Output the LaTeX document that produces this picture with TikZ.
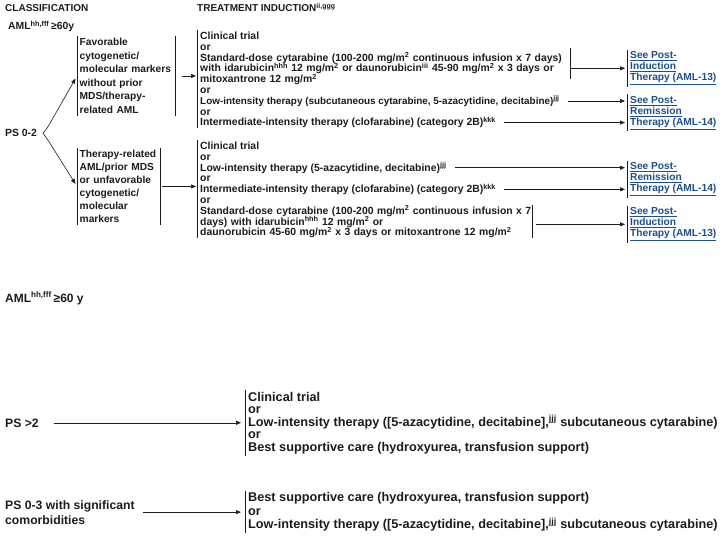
\documentclass[tikz,border=0pt]{standalone}
\usepackage{fontspec}
\setmainfont{Liberation Sans}
\usepackage{tikz}
\usetikzlibrary{positioning, arrows.meta}
\definecolor{inkgray}{HTML}{1C1C1C}
\definecolor{linkblue}{HTML}{1F4E8C}
\newcommand{\tightlines}{\lineskiplimit=-5pt\relax}

\begin{document}
\begin{tikzpicture}[
    x=1pt, y=-1pt,
    every node/.style={inner sep=0pt, text=inkgray},
    head/.style={anchor=base west, font=\bfseries\fontsize{10}{12}\selectfont},
    cls/.style={anchor=north west, align=left, inner xsep=2.5pt, inner ysep=2pt, font=\bfseries\fontsize{10.2}{13.6}\selectfont},
    opt/.style={anchor=base west, align=left, font={\bfseries\fontsize{10.4}{10.8}\selectfont\tightlines}},
    care/.style={anchor=base west, align=left, inner xsep=3pt, inner ysep=2pt, font={\bfseries\fontsize{12.7}{12.5}\selectfont\tightlines}},
    cond/.style={anchor=base west, align=left, font=\bfseries\fontsize{12.2}{15}\selectfont},
    link/.style={anchor=north west, align=left, inner xsep=3pt, inner ysep=1.5pt, text=linkblue, font=\bfseries\fontsize{10.2}{11}\selectfont},
    sideline/.style={draw=inkgray, line width=0.6pt},
    arrow/.style={-{Triangle[length=5pt, width=4pt]}, line width=0.6pt, inkgray}
]
    \useasboundingbox[fill=white] (0,0) rectangle (720,540);

    % Headings
    \node[head] (clshead) at (5,12) {CLASSIFICATION};
    \node[head] (trthead) at (197,12) {TREATMENT INDUCTION\textsuperscript{ii,ggg}};
    \node[head, font=\bfseries\fontsize{10.4}{12}\selectfont] (aml) at (8,30) {AML\textsuperscript{hh,fff}\,≥60y};

    % Classification boxes
    \node[cls, text width=93pt] (fav) at (77,36) {Favorable\\cytogenetic/\\molecular markers\\without prior\\MDS/therapy-\\related AML};
    \node[cls, text width=78pt, font=\bfseries\fontsize{10.2}{13}\selectfont] (ther) at (77,148) {Therapy-related\\AML/prior MDS\\or unfavorable\\cytogenetic/\\molecular\\markers};
    \draw[sideline] (fav.north west) -- (fav.south west);
    \draw[sideline] (fav.north east) -- (fav.south east);
    \draw[sideline] (ther.north west) -- (ther.south west);
    \draw[sideline] (ther.north east) -- (ther.south east);

    % PS 0-2 fork
    \node[head, font=\bfseries\fontsize{10.4}{12}\selectfont] (ps02) at (5,137) {PS 0-2};
    \coordinate[right=6pt of ps02] (fork);
    \draw[line width=0.6pt, inkgray] (fork) -- ++(5,-7) coordinate (forkup);
    \draw[line width=0.6pt, inkgray] (fork) -- ++(5,7) coordinate (forkdn);
    \draw[arrow, shorten >=3pt] (forkup) -- (fav.west);
    \draw[arrow, shorten >=3pt] (forkdn) -- (ther.west);

    % Induction options, favorable
    \node[opt] (t1a) at (200,50.3) {Clinical trial\\or};
    \node[opt, text width=370pt] (t1std) at (200,61.1) {Standard-dose cytarabine (100-200 mg/m\textsuperscript{2} continuous infusion x 7 days)\\with idarubicin\textsuperscript{hhh} 12 mg/m\textsuperscript{2} or daunorubicin\textsuperscript{iii} 45-90 mg/m\textsuperscript{2} x 3 days or\\mitoxantrone 12 mg/m\textsuperscript{2}};
    \node[opt] (t1or) at (200,93.5) {or};
    \node[opt, font={\bfseries\fontsize{9.9}{10.8}\selectfont}] (t1low) at (200,104.3) {Low-intensity therapy (subcutaneous cytarabine, 5-azacytidine, decitabine)\textsuperscript{jjj}};
    \node[opt] (t1or2) at (200,115.1) {or};
    \node[opt] (t1int) at (200,125.9) {Intermediate-intensity therapy (clofarabine) (category 2B)\textsuperscript{kkk}};
    \draw[sideline] ([shift={(-3,-2)}]t1a.north west) -- ([xshift=-3pt]t1int.south west);
    \draw[sideline] ([yshift=4pt]t1std.north east) -- ([yshift=6pt]t1std.south east);

    % Induction options, unfavorable
    \node[opt] (t2a) at (200,160.3) {Clinical trial\\or};
    \node[opt] (t2low) at (200,171.1) {Low-intensity therapy (5-azacytidine, decitabine)\textsuperscript{jjj}};
    \node[opt] (t2or) at (200,181.9) {or};
    \node[opt] (t2int) at (200,192.7) {Intermediate-intensity therapy (clofarabine) (category 2B)\textsuperscript{kkk}};
    \node[opt] (t2or2) at (200,203.5) {or};
    \node[opt, text width=332pt] (t2std) at (200,214.3) {Standard-dose cytarabine (100-200 mg/m\textsuperscript{2} continuous infusion x 7\\days) with idarubicin\textsuperscript{hhh} 12 mg/m\textsuperscript{2} or\\daunorubicin 45-60 mg/m\textsuperscript{2} x 3 days or mitoxantrone 12 mg/m\textsuperscript{2}};
    \draw[sideline] ([shift={(-3,-2)}]t2a.north west) -- ([xshift=-3pt]t2std.south west);
    \draw[sideline] (t2std.north east) -- (t2std.south east);

    % Post-induction links
    \node[link] (ind1) at (627,50) {\underline{See Post-}\\\underline{Induction}\\\underline{Therapy (AML-13)}};
    \node[link] (rem1) at (627,94.5) {\underline{See Post-}\\\underline{Remission}\\\underline{Therapy (AML-14)}};
    \node[link] (rem2) at (627,161) {\underline{See Post-}\\\underline{Remission}\\\underline{Therapy (AML-14)}};
    \node[link] (ind2) at (627,206) {\underline{See Post-}\\\underline{Induction}\\\underline{Therapy (AML-13)}};
    \foreach \lk in {ind1, rem1, rem2, ind2}
        \draw[sideline] (\lk.north west) -- (\lk.south west);

    % Connections
    \draw[arrow, shorten <=7pt, shorten >=4pt] (fav.east) -- (fav.east -| t1a.west);
    \draw[arrow, shorten <=2pt, shorten >=4pt] (ther.east) -- (ther.east -| t2a.west);
    \draw[arrow, shorten >=2pt] (t1std.east |- ind1.west) -- (ind1.west);
    \draw[arrow, shorten <=8pt, shorten >=2pt] (t1low.east) -- (t1low.east -| rem1.west);
    \draw[arrow, shorten <=8pt, shorten >=2pt] (t1int.east) -- (t1int.east -| rem1.west);
    \draw[arrow, shorten <=8pt, shorten >=2pt] (t2low.east) -- (t2low.east -| rem2.west);
    \draw[arrow, shorten <=8pt, shorten >=2pt] (t2int.east) -- (t2int.east -| rem2.west);
    \draw[arrow, shorten <=4pt, shorten >=2pt] (t2std.east |- ind2.west) -- (ind2.west);

    % Poor performance status
    \node[cond, font=\bfseries\fontsize{12}{14}\selectfont] (aml2) at (5,302) {AML\textsuperscript{hh,fff}\,≥60 y};
    \node[cond] (ps2) at (5,427) {PS >2};
    \node[care] (pal1) at (245,451) {Clinical trial\\or\\Low-intensity therapy ([5-azacytidine, decitabine],\textsuperscript{jjj} subcutaneous cytarabine)\\or\\Best supportive care (hydroxyurea, transfusion support)};
    \draw[sideline] (pal1.north west) -- (pal1.south west);
    \draw[arrow, shorten <=15pt, shorten >=4pt] (ps2.east) -- (ps2.east -| pal1.west);

    \node[cond] (ps03) at (5,524) {PS 0-3 with significant\\comorbidities};
    \node[care, font={\bfseries\fontsize{12.7}{13.3}\selectfont\tightlines}] (pal2) at (245,528.5) {Best supportive care (hydroxyurea, transfusion support)\\or\\Low-intensity therapy ([5-azacytidine, decitabine],\textsuperscript{jjj} subcutaneous cytarabine)};
    \draw[sideline] (pal2.north west) -- (pal2.south west);
    \draw[arrow, shorten <=8pt, shorten >=4pt] (ps03.east) -- (ps03.east -| pal2.west);
\end{tikzpicture}
\end{document}
